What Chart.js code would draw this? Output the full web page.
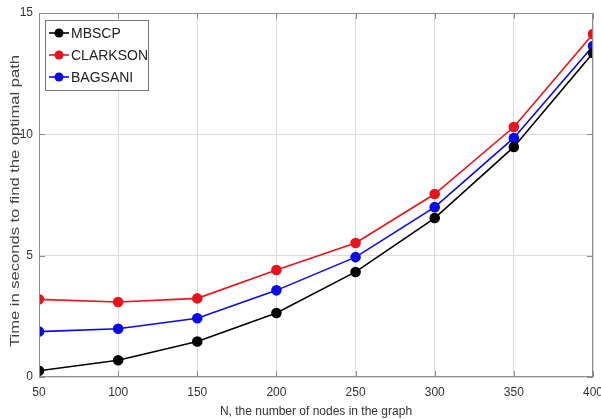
<!DOCTYPE html>
<html>
<head>
<meta charset="utf-8">
<script src="https://cdn.jsdelivr.net/npm/chart.js@4"></script>
<style>
  html, body { margin: 0; padding: 0; background: #fff; }
  #wrap { width: 601px; height: 419px; }
</style>
</head>
<body>
<div id="wrap"><canvas id="chart" width="601" height="419"></canvas></div>
<script>
const nodes = [50, 100, 150, 200, 250, 300, 350, 400];
const mbscp = [0.26, 0.69, 1.46, 2.64, 4.33, 6.55, 9.48, 13.35];
const clarkson = [3.2, 3.09, 3.24, 4.41, 5.52, 7.54, 10.3, 14.13];
const bagsani = [1.87, 1.99, 2.42, 3.57, 4.94, 7.0, 9.85, 13.64];
const xTickLabels = [50, 100, 150, 200, 250, 300, 350, 400];
const yTickLabels = [0, 5, 10, 15];
const yTitle = "Time in seconds to find the optimal path";

const FONT = "'Liberation Sans', Arial, sans-serif";

function series(label, values, colour) {
   return {
      label: label,
      data: nodes.map((n, i) => ({ x: n, y: values[i] })),
      borderColor: colour,
      backgroundColor: colour,
      borderWidth: 1.6,
      pointRadius: 4.5,
      pointHoverRadius: 4.5,
      tension: 0
   };
}

// MATLAB-style box, inward ticks, stretched y title and legend
const matlabBox = {
   id: "matlabBox",
   afterDraw(chart) {
      const ctx = chart.ctx;
      const a = chart.chartArea;
      const xs = chart.scales.x, ys = chart.scales.y;
      ctx.save();
      ctx.strokeStyle = "#8c8c8c";
      ctx.lineWidth = 1;
      ctx.strokeRect(a.left + 0.5, a.top + 0.5, a.right - a.left - 1, a.bottom - a.top - 1);
      ctx.beginPath();
      xTickLabels.forEach(v => {
         const px = Math.round(xs.getPixelForValue(v)) + 0.5;
         ctx.moveTo(px, a.bottom); ctx.lineTo(px, a.bottom - 6);
         ctx.moveTo(px, a.top); ctx.lineTo(px, a.top + 6);
      });
      yTickLabels.forEach(v => {
         const py = Math.round(ys.getPixelForValue(v)) + 0.5;
         ctx.moveTo(a.left, py); ctx.lineTo(a.left + 6, py);
         ctx.moveTo(a.right, py); ctx.lineTo(a.right - 6, py);
      });
      ctx.stroke();

      // y title, stretched like the source image
      ctx.save();
      ctx.font = "13px " + FONT;
      ctx.fillStyle = "#444";
      ctx.textAlign = "center";
      ctx.textBaseline = "middle";
      const w = ctx.measureText(yTitle).width;
      ctx.translate(15, 201);
      ctx.rotate(-Math.PI / 2);
      ctx.scale(292 / w, 1);
      ctx.fillText(yTitle, 0, 0);
      ctx.restore();

      // legend
      const lx = 45, ly = 20, lw = 103, lh = 70;
      ctx.fillStyle = "#fff";
      ctx.fillRect(lx, ly, lw, lh);
      ctx.strokeStyle = "#777";
      ctx.strokeRect(lx + 0.5, ly + 0.5, lw, lh);
      ctx.font = "14px " + FONT;
      ctx.textBaseline = "middle";
      chart.data.datasets.forEach((ds, i) => {
         const y = ly + 13 + i * 22;
         ctx.strokeStyle = ds.borderColor;
         ctx.lineWidth = 1.6;
         ctx.beginPath();
         ctx.moveTo(lx + 4, y); ctx.lineTo(lx + 24, y);
         ctx.stroke();
         ctx.fillStyle = ds.borderColor;
         ctx.beginPath();
         ctx.arc(lx + 14, y, 4.5, 0, Math.PI * 2);
         ctx.fill();
         ctx.fillStyle = "#222";
         ctx.fillText(ds.label, lx + 26, y + 1);
      });
      ctx.restore();
   }
};

const config = {
   type: "line",
   data: {
      datasets: [
         series("MBSCP", mbscp, "#000000"),
         series("CLARKSON", clarkson, "#e8141b"),
         series("BAGSANI", bagsani, "#0a0ae8")
      ]
   },
   options: {
      responsive: false,
      animation: false,
      layout: { padding: { top: 13, right: 8, left: 0, bottom: 0 } },
      plugins: { legend: { display: false }, tooltip: { enabled: false } },
      scales: {
         x: {
            type: "linear",
            min: 50,
            max: 400,
            afterFit: s => { s.height = 42; s.paddingLeft = 0; s.paddingRight = 0; },
            afterBuildTicks: s => {
               const t = [];
               for (let v = 50; v <= 400; v += 10) t.push({ value: v });
               s.ticks = t;
            },
            border: { display: false },
            grid: {
               drawTicks: false,
               color: c => (c.tick && c.tick.value % 50 === 0) ? "#dcdcdc" : "#ebebeb",
               lineWidth: 1
            },
            ticks: {
               autoSkip: false,
               maxRotation: 0,
               padding: 8,
               color: "#333",
               font: { family: FONT, size: 12 },
               callback: v => xTickLabels.includes(v) ? String(v) : null
            },
            title: {
               display: true,
               text: "N, the number of nodes in the graph",
               color: "#333",
               font: { family: FONT, size: 12 },
               padding: { top: 1, bottom: 0 }
            }
         },
         y: {
            type: "linear",
            min: 0,
            max: 15,
            afterFit: s => { s.width = 39; s.paddingTop = 0; s.paddingBottom = 0; },
            afterBuildTicks: s => {
               const t = [];
               for (let v = 0; v <= 15; v += 1) t.push({ value: v });
               s.ticks = t;
            },
            border: { display: false },
            grid: {
               drawTicks: false,
               color: c => (c.tick && c.tick.value % 5 === 0) ? "#dcdcdc" : "#ebebeb",
               lineWidth: 1
            },
            ticks: {
               autoSkip: false,
               padding: 6,
               color: "#333",
               font: { family: FONT, size: 12 },
               callback: v => yTickLabels.includes(v) ? String(v) : null
            },
            title: { display: false }
         }
      }
   },
   plugins: [matlabBox]
};

new Chart("chart", config);
</script>
</body>
</html>
